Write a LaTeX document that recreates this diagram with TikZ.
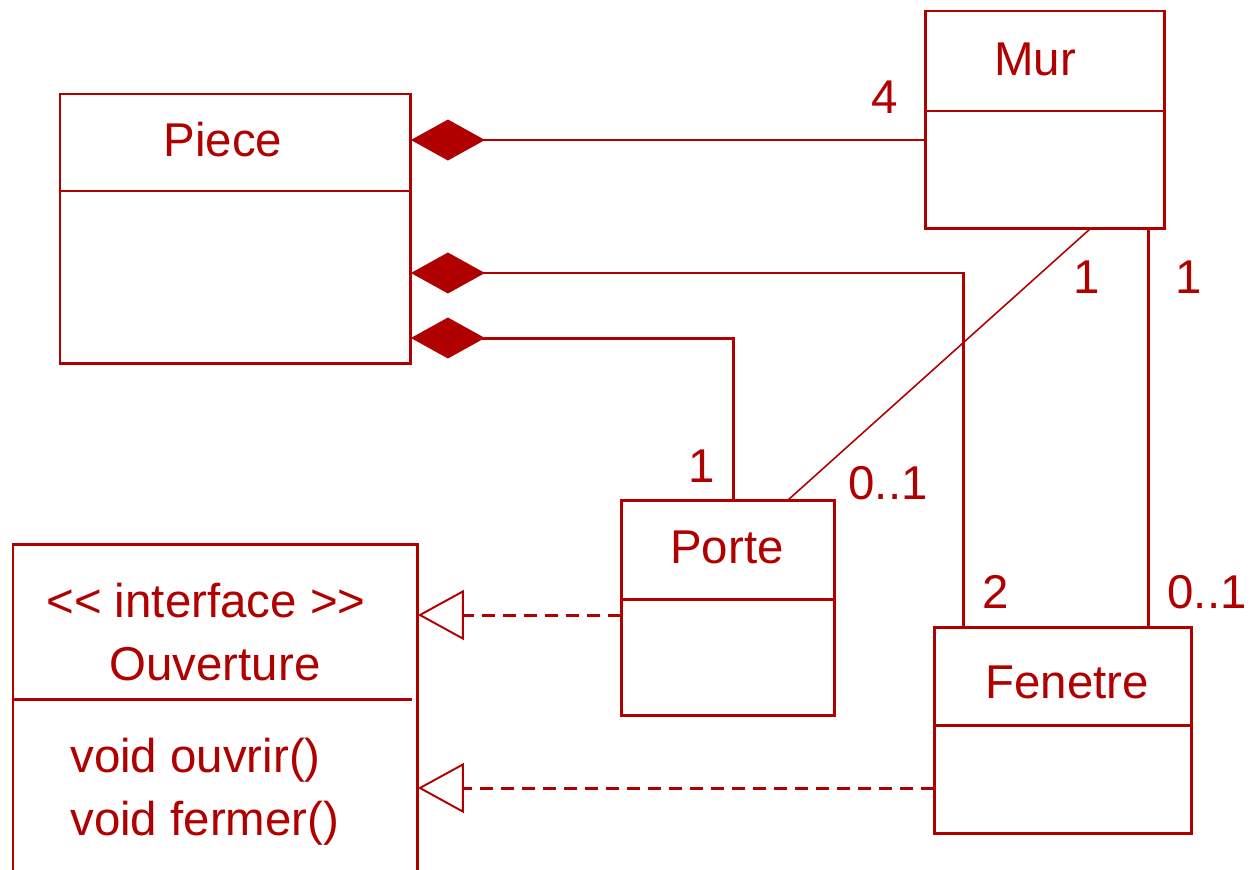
\documentclass[tikz,border=0pt]{standalone}
\usepackage{fontspec}
\setmainfont{Liberation Sans}
\usetikzlibrary{positioning, arrows.meta}
\definecolor{umlred}{RGB}{176,0,0}

\begin{document}
\begin{tikzpicture}
[
    x=0.02cm, y=-0.02cm, font=\fontsize{27}{32}\selectfont,
    class_box/.style={rectangle, draw=umlred, line width=1.7pt, anchor=north west, inner sep=0pt, outer sep=0pt},
    class_name/.style={anchor=base, inner sep=0pt, text=umlred},
    op_text/.style={anchor=base west, inner sep=0pt, text=umlred},
    mult/.style={anchor=base, inner sep=0pt, text=umlred},
    divider/.style={line width=1.7pt, draw=umlred},
    assoc/.style={line width=1.7pt, draw=umlred},
    thin_assoc/.style={line width=0.9pt, draw=umlred},
    comp/.style={assoc, {Diamond[length=1.48cm, width=0.82cm]}-},
    realize/.style={line width=1.7pt, draw=umlred, dash pattern=on 0.26cm off 0.16cm, -{Triangle[open, length=0.92cm, width=1cm, line width=1.1pt, fill=white]}},
]
    \useasboundingbox (0,0) rectangle (1250,869) ;
    \clip (0,0) rectangle (1250,869) ;
    % classes
    \node[class_box, minimum width=7.02cm, minimum height=5.4cm] (piece) at (60,94) {} ;
    \node[class_box, minimum width=4.8cm, minimum height=4.36cm] (mur) at (925,11) {} ;
    \node[class_box, minimum width=4.28cm, minimum height=4.32cm] (porte) at (621,500) {} ;
    \node[class_box, minimum width=5.16cm, minimum height=4.14cm] (fenetre) at (934,627) {} ;
    \node[class_box, minimum width=8.1cm, minimum height=6.8cm] (ouverture) at (13,544) {} ;
    \draw[divider] (piece.west |- 0,191) -- (piece.east |- 0,191) ;
    \draw[divider] (mur.west |- 0,111) -- (mur.east |- 0,111) ;
    \draw[divider] (porte.west |- 0,599) -- (porte.east |- 0,599) ;
    \draw[divider] (fenetre.west |- 0,725) -- (fenetre.east |- 0,725) ;
    \draw[divider] (ouverture.west |- 0,699) -- (412,699) ;
    \node[class_name] (pieceName) at (223,156) {Piece} ;
    \node[class_name] (murName) at (1035,75) {Mur} ;
    \node[class_name] (porteName) at (727,563) {Porte} ;
    \node[class_name] (fenetreName) at (1067,698) {Fenetre} ;
    \node[class_name] (stereo) at (206,617) {<{}< interface >{}>} ;
    \node[class_name] (ouvertureName) at (215,680) {Ouverture} ;
    \node[op_text] (opOuvrir) at (70,772) {void ouvrir()} ;
    \node[op_text] (opFermer) at (70,835) {void fermer()} ;
    % connectors
    \draw[comp] (piece.east |- 0,140) -- (mur.west |- 0,140) ;
    \draw[comp] (piece.east |- 0,273) -| (fenetre.north -| 963,0) ;
    \draw[comp] (piece.east |- 0,338) -| (porte.north -| 733,0) ;
    \draw[thin_assoc] (mur.south -| 1090,0) -- (porte.north -| 788,0) ;
    \draw[assoc] (mur.south -| 1148,0) -- (fenetre.north -| 1148,0) ;
    \draw[realize] (porte.west |- 0,615) -- (ouverture.east |- 0,615) ;
    \draw[realize] (fenetre.west |- 0,788) -- (ouverture.east |- 0,788) ;
    % multiplicities
    \node[mult] (m4) at (885,113) {4} ;
    \node[mult] (mMurPorte) at (1087,293) {1} ;
    \node[mult] (mMurFenetre) at (1189,293) {1} ;
    \node[mult] (mPorteMur) at (888,499) {0..1} ;
    \node[mult] (mPorte) at (702,482) {1} ;
    \node[mult] (mFenetre) at (996,608) {2} ;
    \node[mult] (mFenetreMur) at (1207,608) {0..1} ;
\end{tikzpicture}
\end{document}
